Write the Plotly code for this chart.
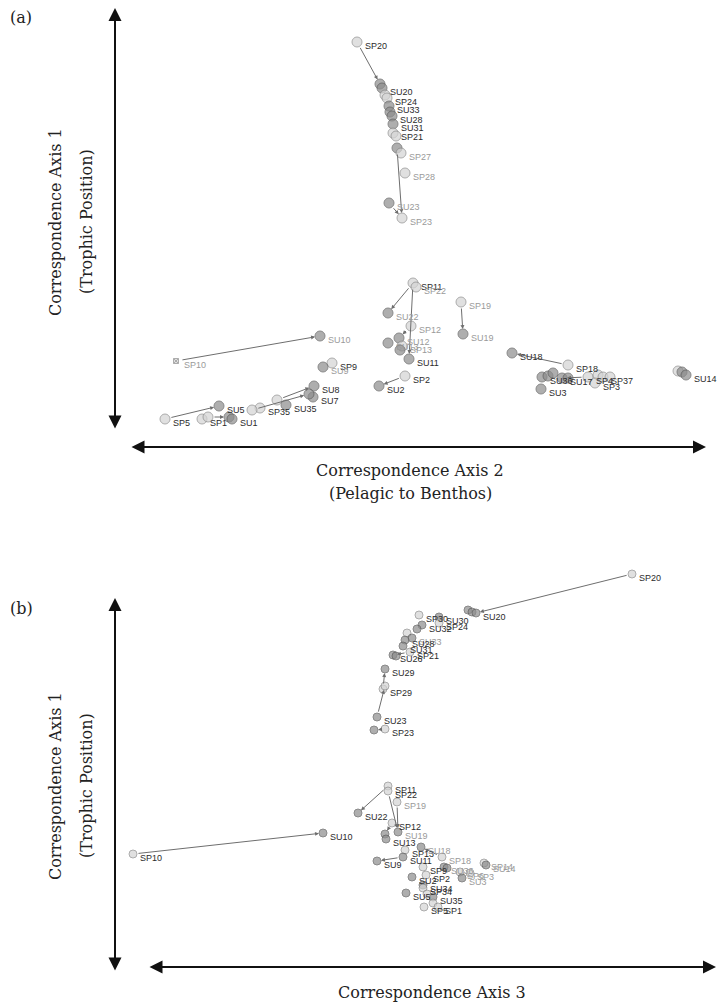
import plotly.graph_objects as go

# ---------------- Panel (a): Axis 2 (x) vs Axis 1 (y) ----------------
a_id = ["SP20", "SU24", "SU20", "SP25", "SP24", "SU33", "SU30", "SU28", "SU31", "SP21", "SP33", "SU27", "SP27", "SP28", "SU23", "SP23",
        "SP11", "SP22", "SU22", "SP12", "SU12", "SU13", "SP13", "SU21", "SU11", "SP2", "SU2", "SP19", "SU19",
        "SU10", "SP10", "SP9", "SU9", "SU8", "SU7", "SU4", "SP34", "SU35", "SP35", "SP8", "SU5", "SP5", "SP1", "SP6", "SU6", "SU1",
        "SU18", "SP18", "SU3", "SU36", "SU16", "SU15", "SU17", "SU37", "SP4", "SP36", "SP37", "SP7", "SP3", "SP14", "SU34", "SU14"]
a_x = [-0.43, -0.20, -0.18, -0.15, -0.13, -0.11, -0.10, -0.08, -0.07, -0.07, -0.04, -0.03, 0.01, 0.05, -0.11, 0.02,
       0.13, 0.16, -0.12, 0.11, -0.01, -0.12, 0.02, 0.00, 0.09, 0.05, -0.21, 0.61, 0.63,
       -0.80, -2.24, -0.68, -0.77, -0.86, -0.87, -0.91, -1.23, -1.14, -1.40, -1.48, -1.81, -2.35, -1.98, -1.92, -1.71, -1.68,
       1.12, 1.68, 1.41, 1.42, 1.48, 1.53, 1.62, 1.68, 1.88, 1.98, 2.03, 2.10, 1.95, 2.78, 2.82, 2.86]
a_y = [2.08, 1.66, 1.62, 1.55, 1.52, 1.44, 1.38, 1.34, 1.26, 1.17, 1.14, 1.02, 0.97, 0.77, 0.47, 0.32,
       -0.33, -0.37, -0.63, -0.76, -0.88, -0.93, -0.96, -1.00, -1.09, -1.26, -1.36, -0.52, -0.84,
       -0.86, -1.11, -1.13, -1.17, -1.36, -1.47, -1.44, -1.50, -1.55, -1.58, -1.60, -1.56, -1.69, -1.69, -1.67, -1.67, -1.69,
       -1.03, -1.15, -1.39, -1.27, -1.26, -1.23, -1.28, -1.28, -1.27, -1.25, -1.27, -1.27, -1.33, -1.21, -1.22, -1.25]
a_label = ["SP20", "", "SU20", "", "SP24", "SU33", "", "SU28", "SU31", "SP21", "", "", "SP27", "SP28", "SU23", "SP23",
           "SP11", "SP22", "SU22", "SP12", "SU12", "SU13", "SP13", "", "SU11", "SP2", "SU2", "SP19", "SU19",
           "SU10", "SP10", "SP9", "SU9", "SU8", "SU7", "", "", "SU35", "SP35", "", "SU5", "SP5", "SP1", "", "", "SU1",
           "SU18", "SP18", "SU3", "SU36", "", "", "SU17", "", "SP4", "", "SP37", "", "SP3", "", "", "SU14"]
a_tone = ["d", "", "d", "", "d", "d", "", "d", "d", "d", "", "", "g", "g", "g", "g",
          "d", "g", "g", "g", "g", "g", "g", "", "d", "d", "d", "g", "g",
          "g", "g", "d", "g", "d", "d", "", "", "d", "d", "", "d", "d", "d", "", "", "d",
          "d", "d", "d", "d", "", "", "d", "", "d", "", "d", "", "d", "", "", "d"]
a_arrows = [("SP20", "SU24"), ("SU27", "SP23"), ("SU23", "SP23"), ("SP11", "SU22"), ("SP11", "SU11"),
            ("SP12", "SU12"), ("SP2", "SU2"), ("SP19", "SU19"), ("SP10", "SU10"), ("SP5", "SU5"),
            ("SP34", "SU8"), ("SP8", "SU4"), ("SP6", "SU6"), ("SP18", "SU18"), ("SP4", "SU17"), ("SP14", "SU14")]

# ---------------- Panel (b): Axis 3 (x) vs Axis 1 (y) ----------------
b_id = ["SP20", "SU24", "SU25", "SU20", "SP30", "SU30", "SP24", "SU32", "SU27", "SP33", "SU33", "SU28", "SU31", "SP21", "SU26", "SU21",
        "SU29", "SP29", "SP28", "SU23", "SU38", "SP23",
        "SP11", "SP22", "SU22", "SP19", "SP12", "SU19", "SU12", "SU13", "SP13", "SU18", "SP18", "SU11", "SU9", "SP9", "SP2",
        "SU36", "SU6", "SP6", "SU3", "SP3", "SP14", "SU14", "SU2", "SU34", "SP34", "SU35", "SP35", "SU5", "SP5", "SP16", "SP1",
        "SU10", "SP10"]
b_x = [2.32, 0.68, 0.72, 0.76, 0.19, 0.39, 0.39, 0.22, 0.17, 0.07, 0.12, 0.05, 0.03, 0.10, -0.07, -0.04,
       -0.15, -0.17, -0.15, -0.23, -0.26, -0.15,
       -0.12, -0.12, -0.42, -0.03, -0.08, -0.02, -0.15, -0.14, 0.05, 0.21, 0.42, 0.03, -0.23, 0.23, 0.26,
       0.44, 0.47, 0.60, 0.62, 0.70, 0.84, 0.86, 0.12, 0.23, 0.23, 0.33, 0.27, 0.06, 0.24, 0.33, 0.38,
       -0.77, -2.67]
b_y = [1.76, 1.40, 1.38, 1.37, 1.35, 1.33, 1.27, 1.25, 1.21, 1.17, 1.12, 1.10, 1.04, 0.98, 0.95, 0.94,
       0.81, 0.61, 0.64, 0.33, 0.20, 0.21,
       -0.36, -0.41, -0.63, -0.52, -0.73, -0.82, -0.84, -0.89, -1.00, -0.97, -1.07, -1.07, -1.11, -1.17, -1.25,
       -1.17, -1.18, -1.22, -1.28, -1.23, -1.13, -1.15, -1.27, -1.35, -1.38, -1.47, -1.44, -1.43, -1.57, -1.53, -1.57,
       -0.83, -1.04]
b_label = ["SP20", "", "", "SU20", "SP30", "SU30", "SP24", "SU32", "", "", "SU33", "SU28", "SU31", "SP21", "SU26", "",
           "SU29", "SP29", "", "SU23", "", "SP23",
           "SP11", "SP22", "SU22", "SP19", "SP12", "SU19", "", "SU13", "SP13", "SU18", "SP18", "SU11", "SU9", "SP9", "SP2",
           "SU36", "", "SP6", "SU3", "SP3", "SP14", "SU14", "SU2", "SU34", "SP34", "SU35", "", "SU5", "SP5", "", "SP1",
           "SU10", "SP10"]
b_tone = ["d", "", "", "d", "d", "d", "d", "d", "", "", "g", "d", "d", "d", "d", "",
          "d", "d", "", "d", "", "d",
          "d", "d", "d", "g", "d", "g", "", "d", "d", "g", "g", "d", "d", "d", "d",
          "g", "", "g", "g", "g", "g", "g", "d", "d", "d", "d", "", "d", "d", "", "d",
          "d", "d"]
b_arrows = [("SP20", "SU20"), ("SP24", "SU30"), ("SP21", "SU26"), ("SP29", "SU29"), ("SU23", "SP28"),
            ("SP23", "SU38"), ("SP11", "SU22"), ("SP22", "SU19"), ("SP19", "SU19"), ("SP12", "SU12"),
            ("SP18", "SU18"), ("SU11", "SU9"), ("SP18", "SU36"), ("SP3", "SU3"), ("SP14", "SU14"),
            ("SP10", "SU10")]

LIGHT_FILL, LIGHT_LINE = "#d4d4d4", "#8a8a8a"
DARK_FILL, DARK_LINE = "#8c8c8c", "#5a5a5a"
TONE = {"d": "#2b2b2b", "g": "#9a9a9a"}

fig = go.Figure()


def add_panel(ids, xs, ys, labels, tones, arrows, xa, ya, msize):
    idx = {n: i for i, n in enumerate(ids)}
    for a, b in arrows:
        fig.add_annotation(x=xs[idx[b]], y=ys[idx[b]], ax=xs[idx[a]], ay=ys[idx[a]],
                           xref=xa, yref=ya, axref=xa, ayref=ya, text="", showarrow=True,
                           arrowhead=2, arrowsize=0.8, arrowwidth=1, arrowcolor="#6e6e6e",
                           standoff=msize / 2, startstandoff=msize / 2)
    fills = [LIGHT_FILL if n.startswith("SP") else DARK_FILL for n in ids]
    lines = [LIGHT_LINE if n.startswith("SP") else DARK_LINE for n in ids]
    sizes = [msize for _ in ids]
    symbols = ["circle" for _ in ids]
    if xa == "x" and "SP10" in idx:
        sizes[idx["SP10"]] = 5
        symbols[idx["SP10"]] = "square-x"
    fig.add_trace(go.Scatter(x=xs, y=ys, mode="markers", xaxis=xa, yaxis=ya, text=ids,
                             hoverinfo="text", showlegend=False,
                             marker=dict(size=sizes, symbol=symbols, color=fills,
                                         line=dict(color=lines, width=1))))
    for lab, tone, x, y in zip(labels, tones, xs, ys):
        if lab:
            fig.add_annotation(x=x, y=y, xref=xa, yref=ya, text=lab, showarrow=False,
                               xanchor="left", yanchor="middle", xshift=msize / 2 + 1, yshift=-4,
                               font=dict(family="Liberation Sans", size=9, color=TONE[tone]))


add_panel(a_id, a_x, a_y, a_label, a_tone, a_arrows, "x", "y", 10)
add_panel(b_id, b_x, b_y, b_label, b_tone, b_arrows, "x2", "y2", 8)

W, H = 718, 1004
ax_style = dict(visible=False, showgrid=False, zeroline=False, fixedrange=True)
fig.update_layout(
    width=W, height=H, autosize=False, margin=dict(l=0, r=0, t=0, b=0),
    paper_bgcolor="white", plot_bgcolor="white",
    xaxis=dict(domain=[115 / W, 1.0], range=[-2.85, 3.18], anchor="y", **ax_style),
    yaxis=dict(domain=[1 - 440 / H, 1 - 10 / H], range=[-1.90, 2.40], anchor="x", **ax_style),
    xaxis2=dict(domain=[115 / W, 1.0], range=[-2.85, 3.18], anchor="y2", **ax_style),
    yaxis2=dict(domain=[1 - 960 / H, 1 - 560 / H], range=[-2.10, 1.90], anchor="x2", **ax_style),
)


def big_arrow(x0, y0, x1, y1):
    fig.add_annotation(x=x1 / W, y=1 - y1 / H, xref="paper", yref="paper",
                       ax=x0 - x1, ay=y0 - y1, text="", showarrow=True,
                       arrowside="end+start", arrowhead=2, arrowsize=1.3, arrowwidth=2,
                       arrowcolor="#111111")


big_arrow(115, 430, 115, 8)
big_arrow(130, 447, 706, 447)
big_arrow(115, 972, 115, 598)
big_arrow(148, 967, 716, 967)

SERIF = dict(family="DejaVu Serif", size=16, color="#222222")


def text(t, x, y, angle=0, anchor="center"):
    fig.add_annotation(x=x / W, y=1 - y / H, xref="paper", yref="paper", text=t,
                       showarrow=False, textangle=angle, xanchor=anchor, yanchor="middle",
                       font=SERIF)


text("(a)", 8, 18, anchor="left")
text("Correspondence Axis 2", 410, 470)
text("(Pelagic to Benthos)", 410, 493)
text("Correspondence Axis 1", 55, 222, angle=-90)
text("(Trophic Position)", 86, 222, angle=-90)
text("(b)", 8, 608, anchor="left")
text("Correspondence Axis 1", 55, 786, angle=-90)
text("(Trophic Position)", 86, 786, angle=-90)
text("Correspondence Axis 3", 432, 992)

fig.write_html("out.html", config={"displayModeBar": False, "staticPlot": False},
               post_script="document.body.style.margin='0';document.body.style.overflow='hidden';")
